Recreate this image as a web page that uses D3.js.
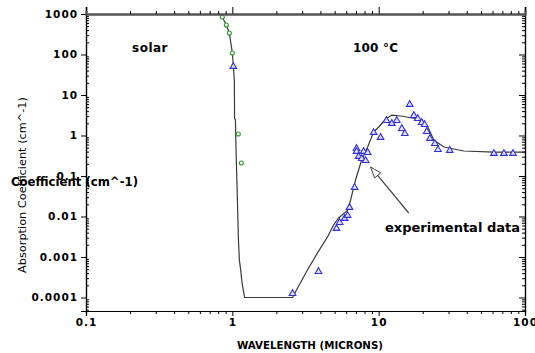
<!DOCTYPE html>
<html>
<head>
<meta charset="utf-8">
<script src="https://cdn.jsdelivr.net/npm/d3@7"></script>
<style>
  body { margin: 0; background: #fff; }
  svg { display: block; }
  text { font-family: "DejaVu Sans", sans-serif; }
</style>
</head>
<body>
<svg width="535" height="353"></svg>
<script>
// model curve (wavelength in microns, absorption coefficient cm^-1)
const curveX = [0.815, 0.854, 0.91, 0.954, 1.0, 1.016, 1.032, 1.036, 1.05, 1.06, 1.082, 1.099, 1.117, 1.14, 1.165, 1.213,
    2.58, 2.79, 3.26, 3.82, 4.47, 4.92, 5.32, 6.13, 6.43, 6.95, 7.65, 8.41, 9.24, 10.0, 11.2, 12.3, 14.2, 18.5, 21.7, 23.8, 27.9, 38.2, 61.3, 100];
const curveY = [1000, 843, 535, 340, 109, 52, 23, 2.7, 2.4, 0.44, 0.030, 0.0031, 0.00084, 0.00048, 0.00023, 0.0001,
    0.0001, 0.000172, 0.000478, 0.00126, 0.00312, 0.00617, 0.0092, 0.0144, 0.0255, 0.0796, 0.248, 0.52, 1.22, 1.62, 2.55, 3.2, 3.03, 2.55, 1.62, 0.775, 0.52, 0.414, 0.39, 0.39];

// solar points (green circles)
const solarX = [0.854, 0.91, 0.954, 1.0, 1.099, 1.152];
const solarY = [843, 535, 340, 109, 1.09, 0.21];

// experimental data (blue triangles)
const expX = [1.016, 2.58, 3.88, 5.15, 5.41, 5.85, 6.13, 6.32, 6.85, 7.06, 7.06, 7.29, 7.65, 7.89, 8.15, 8.41, 9.24, 10.3,
    11.3, 12.3, 13.3, 14.4, 15.1, 16.3, 17.4, 18.5, 19.7, 20.6, 21.3, 22.4, 24.2, 25.4, 30.6, 61.3, 71.8, 82.8];
const expY = [52, 0.000129, 0.00045, 0.0052, 0.0073, 0.0092, 0.0109, 0.0172, 0.0535, 0.49, 0.414, 0.312, 0.278, 0.414, 0.248, 0.39, 1.22, 0.92,
    2.41, 2.04, 2.41, 1.53, 1.15, 6.0, 3.2, 2.7, 2.15, 1.92, 1.29, 0.87, 0.65, 0.46, 0.44, 0.37, 0.37, 0.37];

const xMajor = [0.1, 1, 10, 100];
const xLabels = ["0.1", "1", "10", "100"];
const yMajor = [0.0001, 0.001, 0.01, 0.1, 1, 10, 100, 1000];
const yLabels = ["0.0001", "0.001", "0.01", "0.1", "1", "10", "100", "1000"];

// annotation arrow: [tail, tip] in data coordinates
const arrowX = [16.05, 8.81];
const arrowY = [0.0122, 0.167];

const plotLeft = 86, plotRight = 525, plotTop = 14, plotBottom = 311;

const svg = d3.select("svg");
const x = d3.scaleLog().domain([0.1, 100]).range([plotLeft, plotRight]);
const y = d3.scaleLog().domain([4.64e-5, 1000]).range([plotBottom, plotTop]);

function minors(lo, hi) {
    const out = [];
    for (let p = lo; p < hi; p++) {
        for (let k = 2; k <= 9; k++) out.push(k * Math.pow(10, p));
    }
    return out;
}
const xMinor = minors(-1, 2);
const yMinor = minors(-5, 3).filter(v => v >= 4.64e-5 && v <= 1000);

const fmtX = (d) => xLabels[xMajor.indexOf(d)];
const fmtY = (d) => yLabels[yMajor.indexOf(d)];

// clip for plot
svg.append("clipPath").attr("id", "clip")
    .append("rect").attr("x", plotLeft).attr("y", plotTop)
    .attr("width", plotRight - plotLeft).attr("height", plotBottom - plotTop);

// line
const line = d3.line().x((d, i) => x(curveX[i])).y((d, i) => y(curveY[i]));
svg.append("path")
    .datum(curveX)
    .attr("clip-path", "url(#clip)")
    .attr("d", line)
    .attr("fill", "none")
    .attr("stroke", "#3a3a3a")
    .attr("stroke-width", 1.2);

// solar circles
svg.append("g").selectAll("circle")
    .data(solarX)
    .enter().append("circle")
    .attr("cx", (d, i) => x(d))
    .attr("cy", (d, i) => y(solarY[i]))
    .attr("r", 2)
    .attr("fill", "white")
    .attr("stroke", "#2f9a2f")
    .attr("stroke-width", 1.1);

// triangles
const tri = d3.symbol().type(d3.symbolTriangle).size(19);
svg.append("g").selectAll("path")
    .data(expX)
    .enter().append("path")
    .attr("d", tri)
    .attr("transform", (d, i) => `translate(${x(d)}, ${y(expY[i]) + 0.5})`)
    .attr("fill", "#e4e4ff")
    .attr("stroke", "#3030e0")
    .attr("stroke-width", 1.1);

// axes
const ax = svg.append("g").attr("font-family", "DejaVu Sans");

ax.append("g").attr("transform", `translate(${plotLeft},0)`)
    .call(d3.axisLeft(y).tickValues(yMajor).tickSize(5).tickFormat(fmtY));
ax.append("g").attr("transform", `translate(${plotLeft},0)`)
    .call(d3.axisLeft(y).tickValues(yMinor).tickSize(-3).tickFormat(""));

ax.append("g").attr("transform", `translate(${plotRight},0)`)
    .call(d3.axisRight(y).tickValues(yMajor).tickSize(-6).tickFormat(""));
ax.append("g").attr("transform", `translate(${plotRight},0)`)
    .call(d3.axisRight(y).tickValues(yMinor).tickSize(-3).tickFormat(""));

ax.append("g").attr("transform", `translate(0,${plotBottom})`)
    .call(d3.axisBottom(x).tickValues(xMajor).tickSize(5).tickFormat(fmtX));
ax.append("g").attr("transform", `translate(0,${plotBottom})`)
    .call(d3.axisBottom(x).tickValues(xMinor).tickSize(3).tickFormat(""));

ax.append("g").attr("class", "topAxis").attr("transform", `translate(0,${plotTop})`)
    .call(d3.axisTop(x).tickValues(xMajor).tickSize(7).tickFormat(""));
ax.append("g").attr("class", "topAxis").attr("transform", `translate(0,${plotTop})`)
    .call(d3.axisTop(x).tickValues(xMinor).tickSize(3).tickFormat(""));

ax.selectAll(".domain").attr("stroke", "#000").attr("stroke-width", 1.2);
ax.selectAll(".tick line").attr("stroke", "#000");
ax.selectAll(".topAxis .domain").attr("stroke", "#555").attr("stroke-width", 2);
ax.selectAll(".tick text")
    .attr("font-size", 10.5)
    .attr("font-weight", "bold")
    .attr("letter-spacing", 1)
    .attr("fill", "#000");

// axis titles
svg.append("text")
    .attr("x", 310).attr("y", 349)
    .attr("text-anchor", "middle")
    .attr("font-size", 10).attr("font-weight", "bold")
    .attr("textLength", 146).attr("lengthAdjust", "spacingAndGlyphs")
    .text("WAVELENGTH (MICRONS)");

svg.append("text")
    .attr("transform", "translate(26,185) rotate(-90)")
    .attr("text-anchor", "middle")
    .attr("font-size", 10)
    .attr("textLength", 176).attr("lengthAdjust", "spacingAndGlyphs")
    .text("Absorption Coefficient (cm^-1)");

svg.append("text")
    .attr("x", 11).attr("y", 186)
    .attr("font-size", 11.5).attr("font-weight", "bold")
    .attr("textLength", 127).attr("lengthAdjust", "spacingAndGlyphs")
    .text("Coefficient (cm^-1)");

// labels
svg.append("text").attr("x", 132).attr("y", 52)
    .attr("font-size", 12).attr("font-weight", "bold").attr("letter-spacing", 0.5)
    .text("solar");
svg.append("text").attr("x", 353).attr("y", 52)
    .attr("font-size", 12).attr("font-weight", "bold").attr("letter-spacing", 0.2)
    .text("100 °C");
svg.append("text").attr("x", 385).attr("y", 232)
    .attr("font-size", 12).attr("font-weight", "bold")
    .attr("textLength", 135).attr("lengthAdjust", "spacingAndGlyphs")
    .text("experimental data");

// arrow
const ax0 = x(arrowX[0]), ay0 = y(arrowY[0]), ax1 = x(arrowX[1]), ay1 = y(arrowY[1]);
svg.append("line")
    .attr("x1", ax0).attr("y1", ay0).attr("x2", ax1).attr("y2", ay1)
    .attr("stroke", "#444").attr("stroke-width", 1.2);
const ang = Math.atan2(ay0 - ay1, ax0 - ax1);
const hl = 11, hw = 4;
const bx = ax1 + Math.cos(ang) * hl, by = ay1 + Math.sin(ang) * hl;
const head = [
    [ax1, ay1],
    [bx + Math.sin(ang) * hw, by - Math.cos(ang) * hw],
    [bx - Math.sin(ang) * hw, by + Math.cos(ang) * hw]
];
svg.append("path")
    .attr("d", d3.line()(head) + "Z")
    .attr("fill", "white").attr("stroke", "#444").attr("stroke-width", 1);
</script>
</body>
</html>
